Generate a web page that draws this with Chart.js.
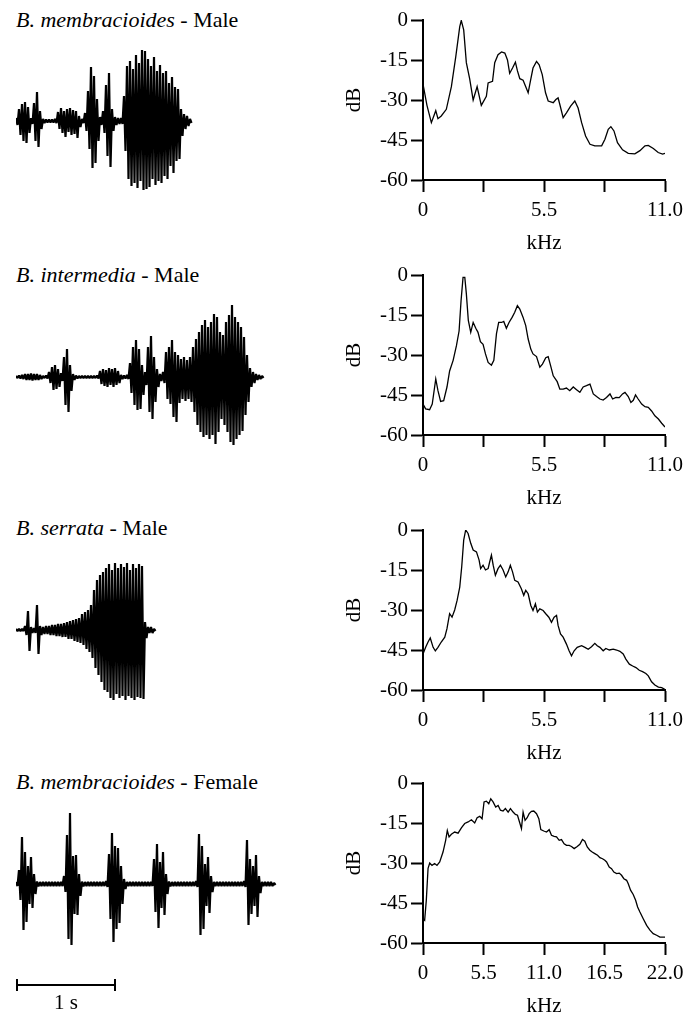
<!DOCTYPE html>
<html>
<head>
<meta charset="utf-8">
<script src="https://cdn.jsdelivr.net/npm/chart.js@4.4.1/dist/chart.umd.min.js"></script>
<style>
  body { margin: 0; background: #fff; }
  #page { position: relative; width: 686px; height: 1014px; color: #000;
    font-family: "Liberation Serif", Tinos, "Times New Roman", Times, "Nimbus Roman", FreeSerif, "DejaVu Serif", serif; }
  .title { position: absolute; left: 16px; font-size: 22px; line-height: 22px; white-space: nowrap; }
  canvas { position: absolute; }
</style>
</head>
<body>
<div id="page">
  <div class="title" style="top:9px"><i>B. membracioides</i> - Male</div>
  <div class="title" style="top:264px"><i>B. intermedia</i> - Male</div>
  <div class="title" style="top:517px"><i>B. serrata</i> - Male</div>
  <div class="title" style="top:771px"><i>B. membracioides</i> - Female</div>

  <canvas id="wave1" width="270" height="150" style="left:16px;top:46px"></canvas>
  <canvas id="wave2" width="270" height="150" style="left:16px;top:302px"></canvas>
  <canvas id="wave3" width="270" height="150" style="left:16px;top:555px"></canvas>
  <canvas id="wave4" width="270" height="205" style="left:16px;top:809px"></canvas>

  <canvas id="spec1" width="346" height="256" style="left:340px;top:0px"></canvas>
  <canvas id="spec2" width="346" height="256" style="left:340px;top:255px"></canvas>
  <canvas id="spec3" width="346" height="256" style="left:340px;top:510px"></canvas>
  <canvas id="spec4" width="346" height="256" style="left:340px;top:763px"></canvas>
</div>

<script>
// oscillograms: envelope (top / bottom) sampled every 0.03 s, arbitrary amplitude units
const WAVE_STEP = 0.03;
const SCALE_BAR_S = 1;

const memMaleTop = [3,12,17,19,14,3,18,29,10,2, 1.5,1.5,1.5,2,9,13,10,12,13,11, 10,5,2,8,30,54,45,22,4,10,
  36,48,12,4,3,3,25,55,60,52, 66,58,71,70,62,55,64,50,56,48, 50,38,44,34,32,12,7,5,2];
const memMaleBottom = [-4,-14,-20,-22,-12,-3,-20,-26,-8,-2, -1.5,-1.5,-1.5,-2,-8,-12,-16,-11,-14,-13,
  -17,-6,-2,-10,-28,-47,-42,-20,-4,-12, -35,-46,-10,-4,-3,-3,-30,-58,-65,-62,
  -67,-60,-69,-68,-66,-58,-64,-60,-62,-55, -58,-45,-52,-40,-38,-15,-8,-5,-2];

const intMaleTop = [1,1.5,2,3,3,3.5,3,3,2,1, 1.5,5,10,12,8,4,20,28,12,3, 1.5,1,1,1,1,1,1,1.5,6,8,
  7,9,8,9,6,2,1.5,2,14,30, 37,28,12,5,30,41,20,8,3,5, 25,30,37,25,22,18,20,17,20,30,
  38,45,52,57,50,55,63,60,45,42, 55,62,72,60,55,50,40,22,9,5, 3,2,1];
const intMaleBottom = [-1,-1.5,-2,-3,-3,-3.5,-3,-3,-2,-1, -1.5,-6,-13,-12,-10,-4,-28,-35,-14,-3,
  -1.5,-1,-1,-1,-1,-1,-1,-1.5,-7,-9, -10,-8,-10,-8,-6,-2,-1.5,-2,-16,-28,
  -33,-32,-18,-8,-35,-42,-25,-10,-4,-6, -22,-27,-40,-45,-26,-22,-24,-22,-25,-35,
  -48,-55,-60,-58,-62,-58,-67,-55,-42,-48, -55,-65,-68,-62,-58,-54,-38,-25,-10,-6, -3,-2,-1];

const serMaleTop = [1,1,1,4,19,3,2,25,4,3, 4,4,5,5,6,6,7,8,9,10, 11,12,16,18,20,25,40,50,55,58,
  62,66,60,67,62,66,63,67,60,66, 62,66,64,8,3,3,1];
const serMaleBottom = [-1,-1,-1,-5,-21,-3,-3,-24,-5,-4, -4,-5,-5,-6,-6,-7,-7,-9,-9,-11,
  -12,-13,-15,-19,-22,-28,-38,-45,-52,-60, -62,-68,-70,-64,-68,-66,-70,-66,-68,-70,
  -67,-68,-69,-8,-3,-3,-1];

const memFemTop = [2,14,47,32,18,27,10,2.5,2,2, 2,2,2,2,2,2,8,49,71,28, 29,10,2.5,2,2,2,2,2,2,2,
  3,30,51,38,36,18,5,2,2,2, 2,2,2,2,2,2,25,40,22,32, 10,2.5,2,2,2,2,2,2,2,2,
  3,50,38,20,27,8,2,2,2,2, 2,2,2,2,2,2,3,44,25,18, 29,8,2,2,2,2,1];
const memFemBottom = [-2,-16,-46,-38,-20,-24,-10,-2.5,-2,-2, -2,-2,-2,-2,-2,-2,-8,-55,-61,-30,
  -31,-12,-2.5,-2,-2,-2,-2,-2,-2,-2, -3,-35,-58,-45,-39,-20,-5,-2,-2,-2,
  -2,-2,-2,-2,-2,-2,-28,-44,-24,-31, -10,-2.5,-2,-2,-2,-2,-2,-2,-2,-2,
  -3,-51,-45,-22,-29,-8,-2,-2,-2,-2, -2,-2,-2,-2,-2,-2,-3,-41,-30,-22, -33,-9,-2,-2,-2,-2,-1];

// power spectra (kHz, dB)
const memMaleKHz = [0,0.18,0.38,0.58,0.68,0.83,1.06,1.29,1.49,1.67, 1.74,1.85,1.97,2.12,2.28,2.46,2.65,2.88,2.96,3.16,
  3.26,3.41,3.57,3.72,3.84,3.94,4.07,4.2,4.29,4.4, 4.55,4.67,4.78,4.88,5.0,5.16,5.28,5.42,5.57,5.69,
  5.92,6.04,6.14,6.22,6.37,6.52,6.71,6.9,7.05,7.21, 7.39,7.59,7.81,8.12,8.27,8.42,8.54,8.68,8.84,9.07,
  9.33,9.63,9.86,10.09,10.24,10.47,10.69,10.89,11.0];
const memMaleDB = [-24,-32,-38.5,-34,-37,-36,-33.5,-25,-13.7,-2.5, -0.2,-3.7,-16,-22,-30,-25,-32,-28.6,-23.6,-23,
  -16,-13,-12,-12.4,-15,-20,-18,-15.8,-19,-22, -22.6,-25,-27.3,-23,-18,-15.5,-16.8,-20.5,-27.3,-30.4,
  -31,-29.8,-29.2,-31.7,-36.6,-34.8,-32.3,-30.4,-33,-38.5, -43.5,-46.6,-47.2,-47.2,-44.7,-41,-40,-41.6,-46,-48.7,
  -50,-50.2,-49,-47.2,-47,-48.2,-49.7,-50.3,-50];

const intMaleKHz = [0,0.12,0.3,0.42,0.58,0.68,0.8,0.94,1.09,1.21, 1.37,1.52,1.64,1.73,1.82,1.9,1.97,2.06,2.17,2.28,
  2.4,2.5,2.61,2.73,2.84,2.96,3.11,3.22,3.34,3.44, 3.57,3.67,3.79,3.91,4.05,4.17,4.29,4.4,4.55,4.67,
  4.78,4.9,5.0,5.16,5.31,5.43,5.58,5.69,5.8,5.92, 6.1,6.22,6.37,6.52,6.67,6.83,6.98,7.13,7.28,7.43,
  7.59,7.74,7.89,8.04,8.19,8.34,8.5,8.62,8.77,8.92, 9.07,9.18,9.33,9.45,9.56,9.66,9.78,9.94,10.09,10.24,
  10.39,10.54,10.7,10.85,11];
const intMaleDB = [-48.4,-50.2,-50.5,-48.4,-39,-43.4,-47.4,-47.1,-42,-36, -32,-26.5,-21,-9.6,-0.9,-0.9,-7,-17,-21.5,-17.8,
  -20,-21.5,-25,-26,-29.6,-32.8,-33.8,-32,-22,-17.8, -17.8,-17.4,-20,-17.8,-15.9,-14,-11.5,-12.8,-15.9,-19,
  -24,-27.8,-29.6,-30.6,-34.6,-33.4,-31,-30.6,-34,-37.8, -40,-42.8,-42.8,-42.4,-43.4,-42,-43,-44,-42,-41.5,
  -40.9,-44.6,-45.6,-46.5,-46.9,-45.9,-44.6,-46.5,-45.9,-46, -44.6,-44,-45.6,-47.8,-47,-45,-46.5,-48.4,-49.4,-49.6,
  -51,-52.8,-54,-55.6,-57];

const serMaleKHz = [0,0.12,0.23,0.33,0.46,0.56,0.68,0.83,0.99,1.09, 1.21,1.32,1.44,1.55,1.67,1.76,1.85,1.94,2.05,2.17,
  2.28,2.43,2.55,2.62,2.73,2.84,2.96,3.03,3.11,3.19, 3.29,3.41,3.52,3.64,3.76,3.87,3.97,4.07,4.17,4.32,
  4.47,4.58,4.67,4.78,4.9,5.0,5.11,5.2,5.31,5.46, 5.58,5.72,5.84,5.96,6.07,6.14,6.25,6.37,6.52,6.64,
  6.75,6.87,7.01,7.21,7.36,7.51,7.66,7.81,7.92,8.04, 8.19,8.31,8.47,8.65,8.8,8.95,9.1,9.22,9.38,9.53,
  9.68,9.83,9.98,10.13,10.24,10.39,10.54,10.7,10.85,11];
const serMaleDB = [-46.5,-44,-42,-40.5,-44,-45.3,-44,-42,-40.2,-37, -31.4,-32.7,-30,-26.4,-21.4,-13.8,-3.8,0,-1.3,-5,
  -7.5,-8.2,-11.3,-14.5,-13.2,-15,-14.5,-12,-9.4,-13.2, -17,-14.5,-13.2,-15,-17.6,-15.7,-13.2,-15.7,-18.9,-19.5,
  -22,-24.5,-22.6,-23.9,-28.3,-30.2,-27.7,-30.8,-29.6,-30.2, -31.4,-32.7,-34.6,-32.7,-32,-35.8,-39,-40.2,-42.8,-45.3,
  -47.2,-45.3,-44,-43.4,-44,-44.7,-43.8,-42.5,-43.4,-44, -45.3,-44.4,-45,-44.7,-45,-45.5,-46.5,-48.4,-50.3,-51,
  -51.6,-52.6,-53.1,-53.8,-54.7,-56.9,-58.1,-58.9,-59.1,-59.8];

const memFemKHz = [0,0.15,0.3,0.46,0.61,0.82,1.06,1.27,1.52,1.82, 2.06,2.21,2.37,2.58,2.88,3.19,3.49,3.79,4.1,4.4,
  4.7,4.92,5.16,5.37,5.55,5.76,5.98,6.16,6.37,6.61, 6.83,7.04,7.28,7.49,7.74,7.95,8.19,8.4,8.59,8.8,
  8.95,9.1,9.28,9.47,9.65,9.86,10.07,10.32,10.53,10.71, 10.98,11.23,11.47,11.68,11.92,12.14,12.38,12.59,12.83,13.05,
  13.29,13.5,13.74,14.02,14.26,14.5,14.71,14.93,15.17,15.38, 15.62,15.87,16.08,16.32,16.53,16.69,16.93,17.14,17.35,17.6,
  17.84,18.05,18.26,18.51,18.66,18.87,19.11,19.33,19.51,19.72, 20.02,20.33,20.63,20.93,21.24,21.54,22];
const memFemDB = [-50.9,-51.5,-44,-32,-30,-30.9,-30.2,-30.9,-29.6,-25.9, -21.5,-17.8,-20.2,-19.2,-18.4,-18.8,-16.8,-15.2,-14.6,-13.8,
  -15,-13,-12.5,-13.4,-7.1,-6.8,-7.8,-5.9,-7.1,-9, -8.4,-10.2,-10.5,-9.6,-10.9,-9.6,-10.9,-11.8,-12.1,-15,
  -17.1,-10.9,-14,-13,-11.5,-10.6,-10.5,-11.5,-13.4,-17.5, -18,-18.4,-17.5,-19.6,-20,-20.2,-21.5,-21.2,-22.8,-23.4,
  -23.4,-23.8,-24.6,-23.8,-23,-21.2,-21.8,-24,-25.2,-25.9, -26.5,-27.1,-28,-28.4,-29,-29.6,-31.5,-32.1,-33.4,-34,
  -33.8,-34.6,-35.9,-36.5,-37.8,-40.2,-41.8,-44,-46.5,-48.4, -50.9,-53.4,-55.2,-56.5,-57.1,-57.8,-57.8];

const dbTicks = [-60, -45, -30, -15, 0];
const khzTicks11 = [0, 2.75, 5.5, 8.25, 11];
const khzLabels11 = ["0", "", "5.5", "", "11.0"];
const khzTicks22 = [0, 5.5, 11, 16.5, 22];
const khzLabels22 = ["0", "5.5", "11.0", "16.5", "22.0"];

const SERIF = '"Liberation Serif", Tinos, "Times New Roman", Times, "Nimbus Roman", FreeSerif, "DejaVu Serif", serif';
Chart.defaults.font.family = SERIF;
Chart.defaults.font.size = 21;
Chart.defaults.color = "#000";

// 1 s bar under the last oscillogram, drawn from its own time axis
const scaleBar = {
  id: "scaleBar",
  afterDraw(chart) {
    const ctx = chart.ctx;
    const x0 = chart.scales.x.getPixelForValue(0);
    const x1 = chart.scales.x.getPixelForValue(SCALE_BAR_S);
    const y = chart.chartArea.bottom + 26;
    ctx.save();
    ctx.strokeStyle = "#000";
    ctx.lineWidth = 2;
    ctx.beginPath();
    ctx.moveTo(x0 + 1, y - 6);
    ctx.lineTo(x0 + 1, y + 6);
    ctx.moveTo(x0, y);
    ctx.lineTo(x1, y);
    ctx.moveTo(x1 - 1, y - 6);
    ctx.lineTo(x1 - 1, y + 6);
    ctx.stroke();
    ctx.fillStyle = "#000";
    ctx.font = "21px " + SERIF;
    ctx.textAlign = "center";
    ctx.textBaseline = "middle";
    ctx.fillText(SCALE_BAR_S + " s", (x0 + x1) / 2, y + 18);
    ctx.restore();
  },
};

// the signal swings between the top and bottom envelope at every sample
function drawWave(id, top, bottom, extraBottom) {
  const pts = [];
  top.forEach((v, i) => {
    pts.push({ x: i * WAVE_STEP, y: v });
    pts.push({ x: (i + 0.5) * WAVE_STEP, y: bottom[i] });
  });
  return new Chart(document.getElementById(id), {
    type: "line",
    data: {
      datasets: [
        {
          data: pts,
          fill: false,
          borderColor: "#000",
          borderWidth: 2.2,
          borderJoinStyle: "bevel",
          pointRadius: 0,
          tension: 0,
        },
      ],
    },
    options: {
      responsive: false,
      animation: false,
      layout: { padding: { bottom: extraBottom || 0 } },
      plugins: { legend: { display: false }, tooltip: { enabled: false } },
      scales: {
        x: { type: "linear", display: false, min: 0, max: 2.7 },
        y: { display: false, min: -75, max: 75 },
      },
    },
    plugins: extraBottom ? [scaleBar] : [],
  });
}

function drawSpectrum(id, khz, db, ticks, labels) {
  return new Chart(document.getElementById(id), {
    type: "line",
    data: {
      datasets: [
        {
          data: khz.map((k, i) => ({ x: k, y: db[i] })),
          borderColor: "#000",
          borderWidth: 1.3,
          pointRadius: 0,
          fill: false,
        },
      ],
    },
    options: {
      responsive: false,
      animation: false,
      layout: { padding: { top: 20, right: 21, left: 0, bottom: 0 } },
      plugins: { legend: { display: false }, tooltip: { enabled: false } },
      scales: {
        x: {
          type: "linear",
          min: ticks[0],
          max: ticks[ticks.length - 1],
          afterBuildTicks: (s) => { s.ticks = ticks.map((v) => ({ value: v })); },
          afterFit: (s) => { s.height = 76; s.paddingLeft = 0; s.paddingRight = 0; },
          ticks: { padding: 6, maxRotation: 0, autoSkip: false, callback: (v, i) => labels[i] },
          grid: { drawOnChartArea: false, tickLength: 12, tickWidth: 2, tickColor: "#000" },
          border: { color: "#000", width: 2 },
          title: { display: true, text: "kHz", padding: { top: 0, bottom: 0 } },
        },
        y: {
          min: -60,
          max: 0,
          afterBuildTicks: (s) => { s.ticks = dbTicks.map((v) => ({ value: v })); },
          afterFit: (s) => { s.width = 83; s.paddingTop = 0; s.paddingBottom = 0; },
          ticks: { padding: 3, callback: (v) => String(v) },
          grid: { drawOnChartArea: false, tickLength: 12, tickWidth: 2, tickColor: "#000" },
          border: { color: "#000", width: 2 },
          title: { display: true, text: "dB", padding: { top: 2, bottom: 0 } },
        },
      },
    },
  });
}

drawWave("wave1", memMaleTop, memMaleBottom);
drawWave("wave2", intMaleTop, intMaleBottom);
drawWave("wave3", serMaleTop, serMaleBottom);
drawWave("wave4", memFemTop, memFemBottom, 55);

drawSpectrum("spec1", memMaleKHz, memMaleDB, khzTicks11, khzLabels11);
drawSpectrum("spec2", intMaleKHz, intMaleDB, khzTicks11, khzLabels11);
drawSpectrum("spec3", serMaleKHz, serMaleDB, khzTicks11, khzLabels11);
drawSpectrum("spec4", memFemKHz, memFemDB, khzTicks22, khzLabels22);
</script>
</body>
</html>
